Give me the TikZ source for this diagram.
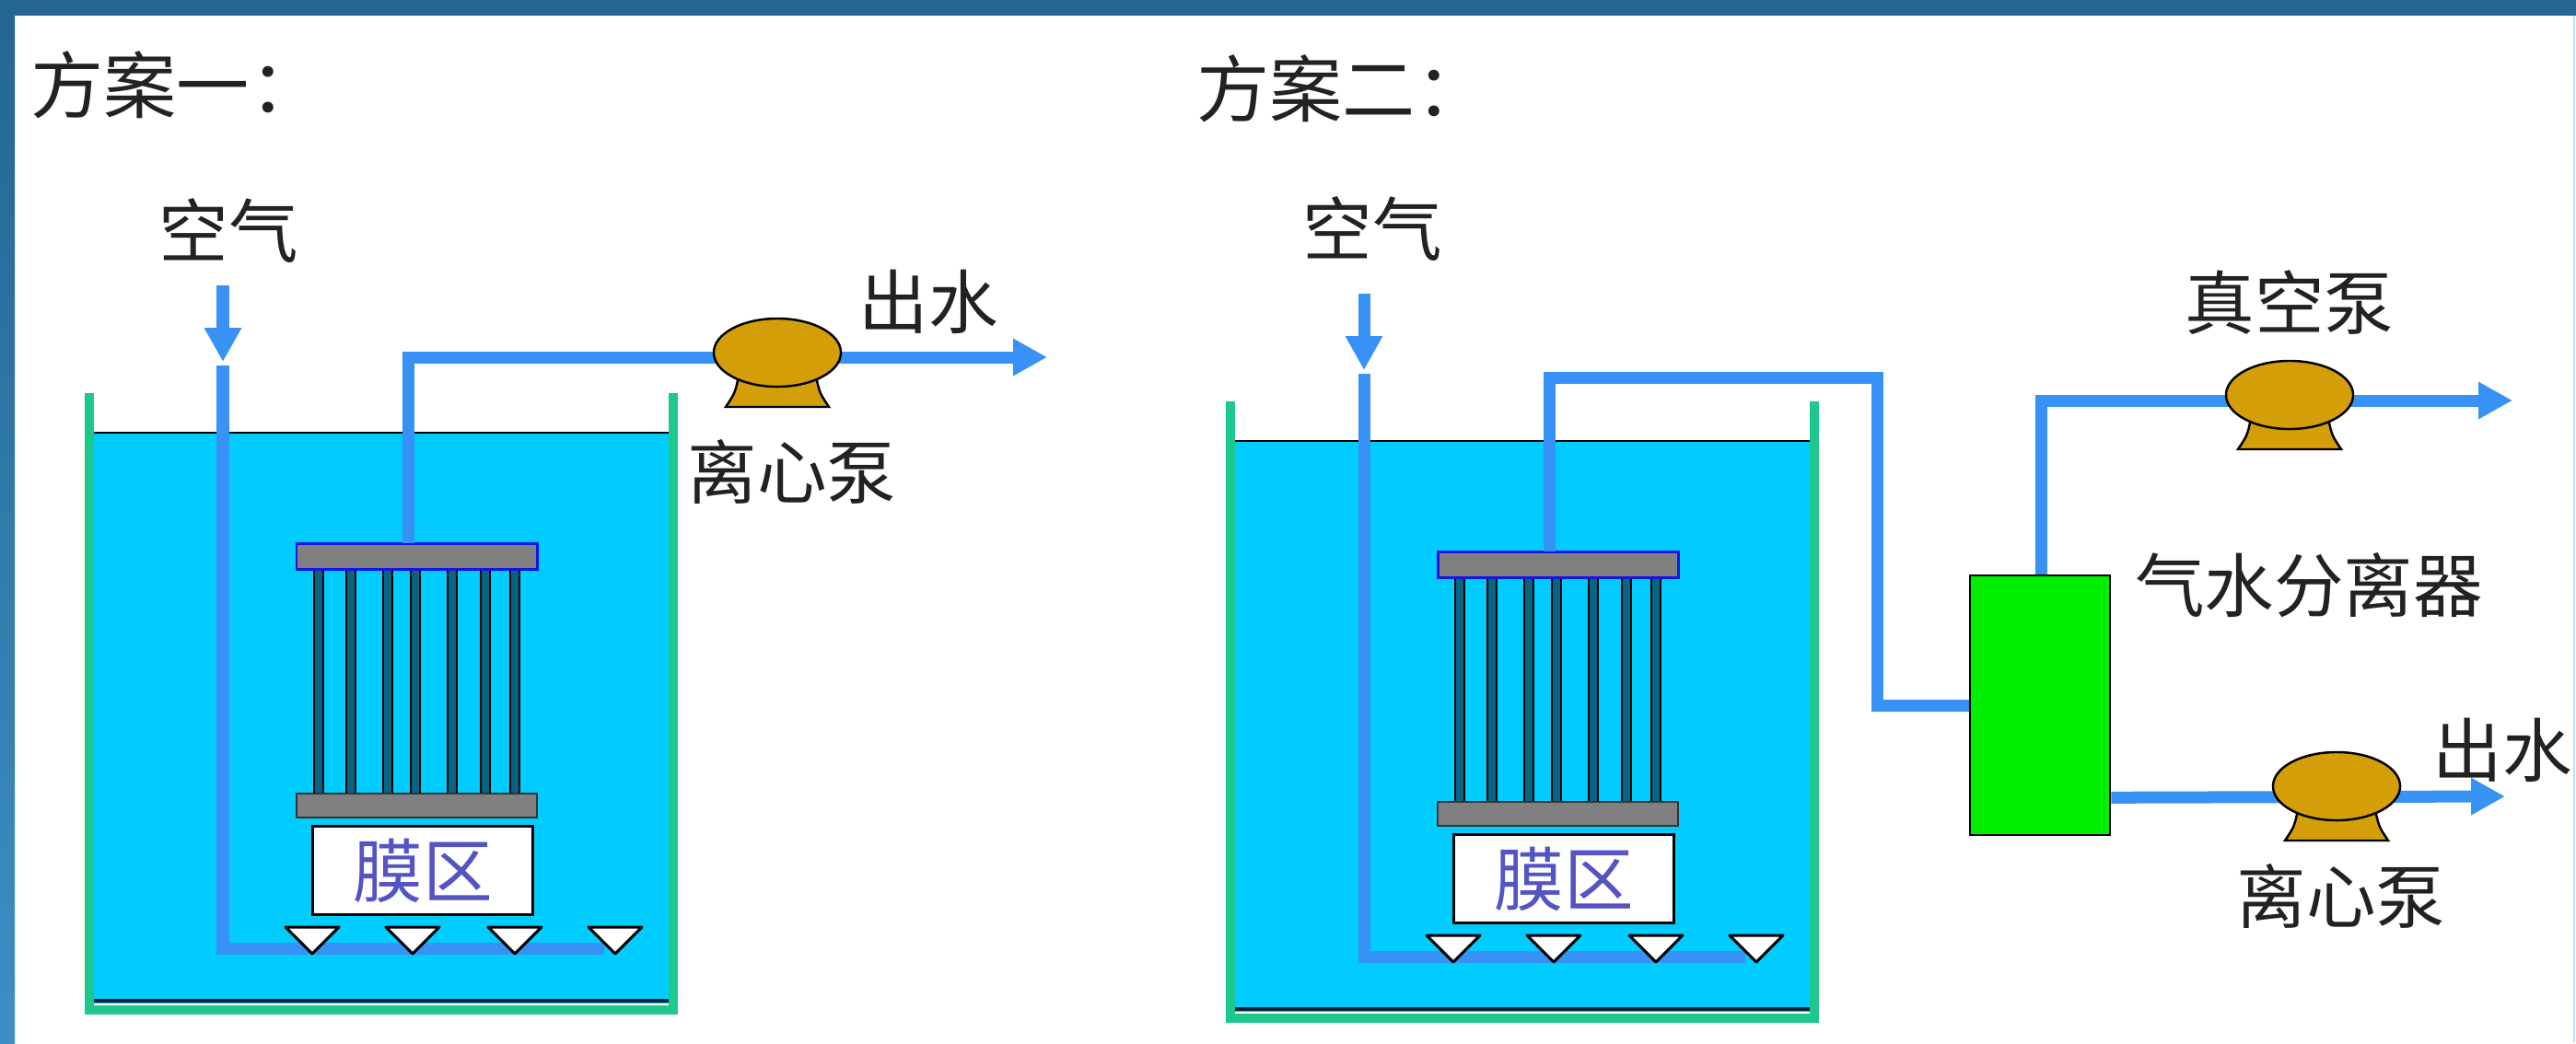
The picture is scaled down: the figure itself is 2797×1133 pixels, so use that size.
\documentclass[tikz,border=0pt]{standalone}
\usepackage{fontspec}
\setmainfont{Noto Sans CJK SC}
\usetikzlibrary{arrows.meta,calc}

\definecolor{pipeblue}{RGB}{56,146,245}
\definecolor{water}{RGB}{0,204,255}
\definecolor{tankgreen}{RGB}{30,200,140}
\definecolor{pumpgold}{RGB}{212,158,8}
\definecolor{sepgreen}{RGB}{0,238,0}
\definecolor{barblue}{RGB}{20,20,230}
\definecolor{bargray}{RGB}{128,128,128}
\definecolor{fiberteal}{RGB}{8,100,130}
\definecolor{framedark}{RGB}{36,102,145}
\definecolor{framelight}{RGB}{62,142,196}
\definecolor{labelgray}{RGB}{34,34,34}
\definecolor{zonetext}{RGB}{84,84,196}
\definecolor{tankfloor}{RGB}{16,32,48}

\tikzset{
  pipe/.style={draw=pipeblue,line width=3.7pt,line join=miter},
  flow/.style={pipe,-{Triangle[length=10.5pt,width=10.8pt]}},
  txt/.style={text=labelgray,font=\fontsize{21.5}{24}\selectfont,inner sep=0pt},
  heading/.style={text=labelgray,font=\fontsize{22.5}{26}\selectfont,inner sep=0pt,anchor=west},
  outline/.style={draw=black,line width=0.85pt},
  diffuser/.style={fill=white,draw=black,line width=0.85pt,line join=round},
  fiber/.style={fill=fiberteal,draw=black,line width=0.55pt},
  pump/.pic={
    \path[fill=pumpgold,draw=black,line width=0.7pt]
      (-42,26) .. controls (-46,44) .. (-56,59) -- (56,59) .. controls (46,44) .. (42,26) -- cycle;
    \path[fill=pumpgold,draw=black,line width=0.7pt]
      (0,0) ellipse [x radius=0.69cm,y radius=0.37cm];
    \coordinate (-c) at (0,0);
  }
}

% one aerated membrane tank, drawn in the coordinates of the left unit
\newcommand{\mbrtank}{%
  % tank: water body, surface, floor and green walls
  \fill[water] (102,470) rectangle (726,1090);
  \draw[black,line width=0.8pt] (102,470) -- (726,470);
  \draw[tankfloor,line width=1.2pt] (102,1087) -- (726,1087);
  \draw[tankgreen,line width=2.6pt,line join=miter] (97,427) -- (97,1097) -- (731,1097) -- (731,427);
  % air feed down to the diffuser header
  \coordinate (airtop) at (242,310);
  \coordinate (airtip) at (242,393);
  \coordinate (airin) at (242,397);
  \coordinate (aircorner) at (242,1030);
  \coordinate (airend) at (656,1030);
  \draw[flow] (airtop) -- (airtip);
  \draw[pipe] (airin) -- (aircorner) -- (airend);
  % hollow fibre module
  \foreach \fx in {346,381,421,451,491,527,559}
    \draw[fiber] (\fx-5,618) rectangle (\fx+5,862);
  \draw[fill=bargray,draw=barblue,line width=0.85pt] (322,590) rectangle (583,618);
  \draw[fill=bargray,draw=black!80,line width=0.7pt] (322,862) rectangle (583,888);
  \coordinate (modtop) at (443,590);
  \node[outline,fill=white,minimum width=2.38cm,minimum height=0.95cm,inner sep=0pt,
        text=zonetext,font=\fontsize{21.5}{24}\selectfont] (zone) at (459,945.5) {膜区};
  % diffusers on the header
  \foreach \dx in {339,448,559,668}
    \draw[diffuser] (\dx-29,1007) -- (\dx+29,1007) -- (\dx,1036) -- cycle;
}

\begin{document}
\begin{tikzpicture}[x=0.01cm,y=-0.01cm]
  \useasboundingbox (0,0) rectangle (2797,1133);
  \fill[white] (0,0) rectangle (2797,1133);

  % slide frame
  \fill[framedark] (0,0) rectangle (2797,17);
  \shade[top color=framedark,bottom color=framelight] (0,0) rectangle (16,1133);
  \draw[framelight!30,line width=0.6pt] (2795,17) -- (2795,1133);

  % ---------------- scheme one ----------------
  \node[heading] (h1) at (33,92) {方案一：};
  \begin{scope}[name prefix=a-]
    \mbrtank
  \end{scope}
  \node[txt] (air1) at (248,250) {空气};
  \coordinate (p1turn) at (443,388);
  \coordinate (p1end) at (1137,388);
  \draw[pipe] (a-modtop) -- (p1turn) -- (844,388);
  \draw[flow] (844,388) -- (p1end);
  \pic (cpA) at (844,383) {pump};
  \node[txt] (out1) at (1008,328) {出水};
  \node[txt] (cp1) at (860,512) {离心泵};

  % ---------------- scheme two ----------------
  \node[heading] (h2) at (1299,96) {方案二：};
  \begin{scope}[shift={(1239,9)},name prefix=b-]
    \mbrtank
  \end{scope}
  \node[txt] (air2) at (1490,248) {空气};

  % gas-water separator
  \node[draw=black,line width=0.7pt,fill=sepgreen,minimum width=1.52cm,minimum height=2.82cm,
        inner sep=0pt] (sep) at (2215,766) {};
  \node[txt] (seplab) at (2507,636) {气水分离器};

  % suction line from the module to the separator
  \coordinate (s1) at (1682,410);
  \coordinate (s2) at (2038,410);
  \coordinate (s3) at (2038,766);
  \draw[pipe] (b-modtop) -- (s1) -- (s2) -- (s3) -- (sep.west);

  % vacuum line on top of the separator
  \coordinate (v1) at (2216,435);
  \coordinate (vend) at (2728,435);
  \draw[flow] ($(sep.north)+(1,0)$) -- (v1) -- (vend);
  \pic (vac) at (2486,429) {pump};
  \node[txt] (vaclab) at (2486,329) {真空泵};

  % effluent line from the separator bottom
  \coordinate (sepout) at ($(sep.south east)+(0,-42)$);
  \coordinate (e2) at (2720,865);
  \draw[flow] (sepout) -- (e2);
  \pic (cpB) at (2537,854) {pump};
  \node[txt] (out2) at (2717,815) {出水};
  \node[txt] (cp2) at (2542,973) {离心泵};
\end{tikzpicture}
\end{document}
